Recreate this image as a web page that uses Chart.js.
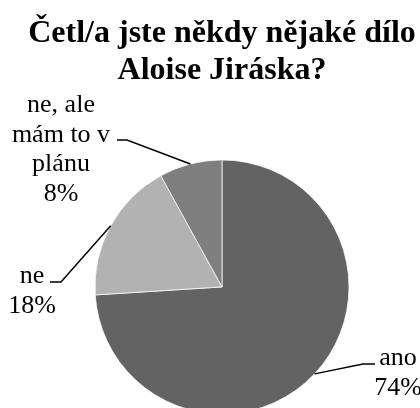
<!DOCTYPE html>
<html lang="cs">
<head>
<meta charset="utf-8">
<title>Četl/a jste někdy nějaké dílo Aloise Jiráska?</title>
<script src="https://cdn.jsdelivr.net/npm/chart.js@4.4.1/dist/chart.umd.min.js"></script>
<style>
  html, body { margin: 0; padding: 0; background: #ffffff; overflow: hidden; }
  #wrap { width: 420px; height: 408px; }
</style>
</head>
<body>
<div id="wrap"><canvas id="chart" width="420" height="408"></canvas></div>
<script>
// Survey answers and their shares (percent)
const categories = ['ano', 'ne', 'ne, ale mám to v plánu'];
const shares = [74, 18, 8];
// Category text as it is broken into lines next to each slice
const categoryLines = [['ano'], ['ne'], ['ne, ale', 'mám to v', 'plánu']];
const titleLines = ['Četl/a jste někdy nějaké dílo', 'Aloise Jiráska?'];
const sliceColors = ['#636363', '#b2b2b2', '#7f7f7f'];

// Where each outside label sits: text centre, first baseline, leader elbow and end
const labelLayout = [
  { cx: 398, y0: 365, elbow: [363, 364], end: [375, 364] },
  { cx: 32,  y0: 283, elbow: [61, 282],  end: [50, 282] },
  { cx: 61,  y0: 112, elbow: [127, 140], end: [117, 140] }
];

const LABEL_FONT = '26px "Liberation Serif", "Times New Roman", serif';
const LABEL_LINE = 29.5;

// Draws category + percentage labels with leader lines from each slice's mid-arc
const outsideLabels = {
  id: 'outsideLabels',
  afterDatasetsDraw(chart) {
    const ctx = chart.ctx;
    const meta = chart.getDatasetMeta(0);
    const values = chart.data.datasets[0].data;
    ctx.save();
    meta.data.forEach((arc, i) => {
      const p = arc.getProps(['x', 'y', 'startAngle', 'endAngle', 'outerRadius'], true);
      const mid = (p.startAngle + p.endAngle) / 2;
      const sx = p.x + Math.cos(mid) * p.outerRadius;
      const sy = p.y + Math.sin(mid) * p.outerRadius;
      const lay = labelLayout[i];
      ctx.beginPath();
      ctx.moveTo(sx, sy);
      ctx.lineTo(lay.elbow[0], lay.elbow[1]);
      ctx.lineTo(lay.end[0], lay.end[1]);
      ctx.strokeStyle = '#000000';
      ctx.lineWidth = 1.5;
      ctx.stroke();

      const lines = categoryLines[i].concat([values[i] + '%']);
      ctx.font = LABEL_FONT;
      ctx.fillStyle = '#000000';
      ctx.textAlign = 'center';
      ctx.textBaseline = 'alphabetic';
      lines.forEach((t, k) => ctx.fillText(t, lay.cx, lay.y0 + k * LABEL_LINE));
    });
    ctx.restore();
  }
};

new Chart(document.getElementById('chart'), {
  type: 'pie',
  data: {
    labels: categories,
    datasets: [{
      data: shares,
      backgroundColor: sliceColors,
      borderColor: '#ffffff',
      borderWidth: 0.75,
      radius: 127,
      clip: false
    }]
  },
  options: {
    responsive: false,
    devicePixelRatio: 1,
    animation: false,
    layout: { padding: { left: 24, right: 0, top: 0, bottom: 0 } },
    plugins: {
      legend: { display: false },
      tooltip: { enabled: false },
      title: {
        display: true,
        text: titleLines,
        color: '#000000',
        font: { family: '"Liberation Serif", "Times New Roman", serif', size: 32, weight: 'bold', lineHeight: 1.17 },
        padding: { top: 15, bottom: 76 }
      }
    }
  },
  plugins: [outsideLabels]
});
</script>
</body>
</html>
